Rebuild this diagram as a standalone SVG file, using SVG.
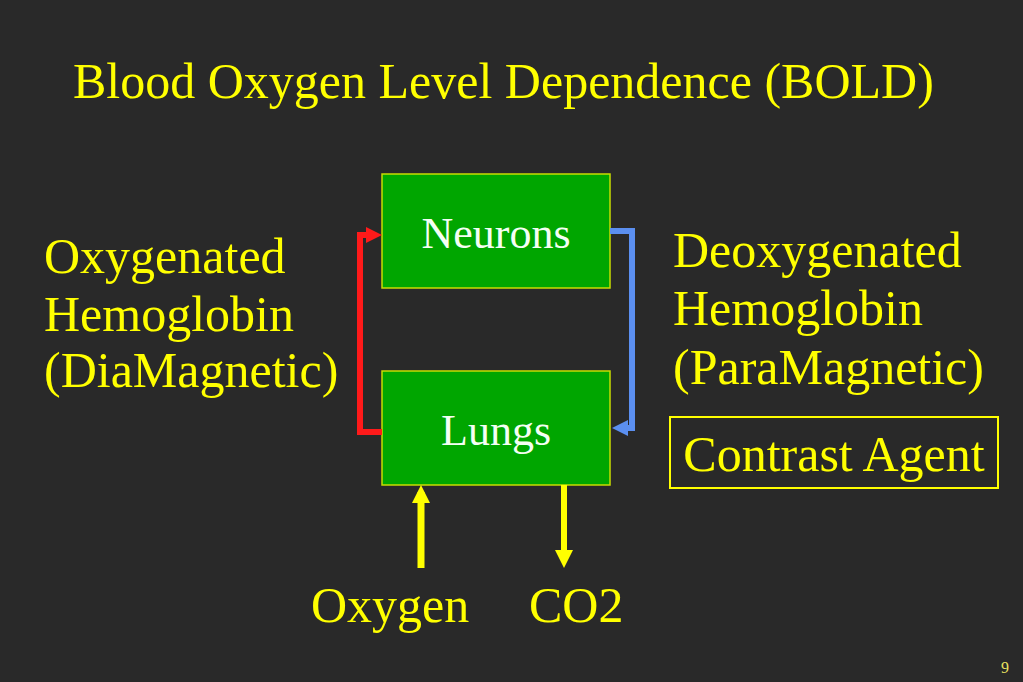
<svg xmlns="http://www.w3.org/2000/svg" width="1023" height="682" viewBox="0 0 1023 682">
<style>
.t{font-family:"Liberation Serif","Times New Roman",serif;fill:#ffff00;font-size:50px}
.box{fill:#00a600;stroke:#c8dc00;stroke-width:1.5}
.lbl{font-family:"Liberation Serif","Times New Roman",serif;fill:#f4fff4;font-size:44px;text-anchor:middle}
.c{fill:none;stroke-linejoin:miter}
</style>
<defs>
<marker id="ar" markerUnits="userSpaceOnUse" markerWidth="16" markerHeight="16" refX="10" refY="8" orient="auto"><path d="M0,0 L16,8 L0,16 z" fill="#ff1a1a"/></marker>
<marker id="ab" markerUnits="userSpaceOnUse" markerWidth="16" markerHeight="16" refX="10" refY="8" orient="auto"><path d="M0,0 L16,8 L0,16 z" fill="#5b8ff0"/></marker>
<marker id="ay" markerUnits="userSpaceOnUse" markerWidth="18" markerHeight="18" refX="11" refY="9" orient="auto"><path d="M0,0 L18,9 L0,18 z" fill="#ffff00"/></marker>
</defs>
<rect width="1023" height="682" fill="#292929"/>
<text class="t" x="73" y="98">Blood Oxygen Level Dependence (BOLD)</text>
<g id="oxy-text"><text class="t" x="44" y="273">Oxygenated</text><text class="t" x="44" y="331">Hemoglobin</text><text class="t" x="44" y="387">(DiaMagnetic)</text></g>
<g id="deoxy-text"><text class="t" x="673" y="267">Deoxygenated</text><text class="t" x="673" y="325">Hemoglobin</text><text class="t" x="673" y="384">(ParaMagnetic)</text></g>
<g id="neurons"><rect class="box" x="382" y="174" width="228" height="114"/><text class="lbl" x="496" y="248">Neurons</text></g>
<g id="lungs"><rect class="box" x="382" y="371" width="228" height="114"/><text class="lbl" x="496" y="445">Lungs</text></g>
<g id="contrast"><rect x="670" y="417" width="328" height="71" fill="none" stroke="#ffff00" stroke-width="2"/><text class="t" x="834" y="471" text-anchor="middle">Contrast Agent</text></g>
<g id="oxygen"><text class="t" x="311" y="622">Oxygen</text></g>
<g id="co2"><text class="t" x="529" y="622">CO2</text></g>
<g id="connectors">
<path class="c" d="M382,432 H360 V235 H376" stroke="#ff1a1a" stroke-width="6" marker-end="url(#ar)"/>
<path class="c" d="M610,231 H632 V428 H618" stroke="#5b8ff0" stroke-width="6" marker-end="url(#ab)"/>
<path class="c" d="M421,568 V492" stroke="#ffff00" stroke-width="7" marker-end="url(#ay)"/>
<path class="c" d="M564,485 V561" stroke="#ffff00" stroke-width="6" marker-end="url(#ay)"/>
</g>
<text x="1005" y="673" font-family="Liberation Serif, serif" font-size="16" fill="#e8e060" text-anchor="middle">9</text>
</svg>
